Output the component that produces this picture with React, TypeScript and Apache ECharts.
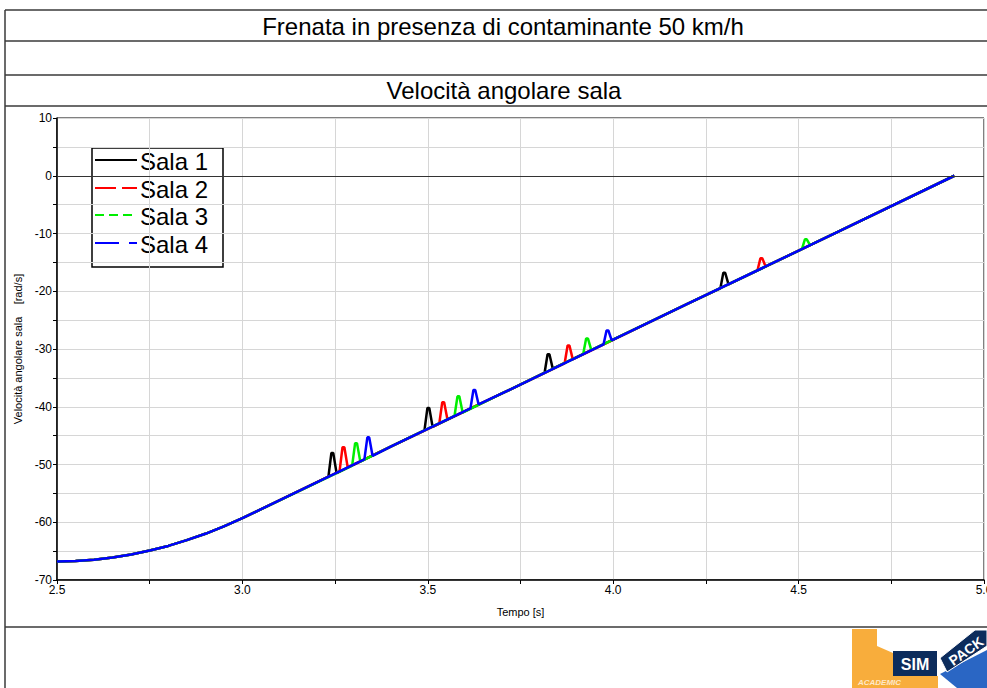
import React, { useEffect, useRef } from "react";
import * as echarts from "echarts";

const mainTitle = "Frenata in presenza di contaminante 50 km/h";
const chartTitle = "Velocità angolare sala";
const xAxisName = "Tempo [s]";
const yAxisName = "Velocità angolare sala    [rad/s]";
const seriesNames = ["Sala 1", "Sala 2", "Sala 3", "Sala 4"];
const seriesColors = ["#000000", "#ff0000", "#00ee00", "#0000ff"];
const legendDashes: (number[] | null)[] = [null, [21, 6], [9, 5], [24, 10, 8, 10]];

// shared wheel angular velocity curve [s] / [rad/s]
const baseTime = [2.5, 2.55, 2.6, 2.65, 2.7, 2.75, 2.8, 2.85, 2.9, 2.95, 3.0, 3.4, 3.7, 4.2, 4.6, 4.92];
const baseValue = [-66.8, -66.7, -66.5, -66.1, -65.6, -64.9, -64.1, -63.1, -62.0, -60.7, -59.3, -46.9, -37.7, -22.2, -9.9, 0];

// local spikes of each wheelset (4 points per spike)
const sala1SpikeTime = [3.232, 3.240, 3.245, 3.254, 3.491, 3.499, 3.504, 3.513, 3.815, 3.823, 3.828, 3.837, 4.289, 4.297, 4.302, 4.311];
const sala1SpikeValue = [-52.1, -48.0, -48.0, -51.5, -44.1, -40.2, -40.2, -43.5, -34.1, -30.9, -30.9, -33.4, -19.5, -16.8, -16.8, -18.8];
const sala2SpikeTime = [3.262, 3.270, 3.275, 3.284, 3.531, 3.539, 3.544, 3.553, 3.869, 3.877, 3.882, 3.891, 4.389, 4.397, 4.402, 4.411];
const sala2SpikeValue = [-51.2, -47.0, -47.0, -50.5, -42.9, -39.2, -39.2, -42.2, -32.5, -29.4, -29.4, -31.8, -16.4, -14.3, -14.3, -15.7];
const sala3SpikeTime = [3.296, 3.304, 3.309, 3.318, 3.572, 3.580, 3.585, 3.594, 3.919, 3.927, 3.932, 3.941, 4.509, 4.517, 4.522, 4.531];
const sala3SpikeValue = [-50.2, -46.3, -46.3, -49.5, -41.6, -38.2, -38.2, -41.0, -30.9, -28.2, -28.2, -30.2, -12.7, -11.0, -11.0, -12.0];
const sala4SpikeTime = [3.329, 3.337, 3.342, 3.351, 3.615, 3.623, 3.628, 3.637, 3.974, 3.982, 3.987, 3.996];
const sala4SpikeValue = [-49.1, -45.3, -45.3, -48.5, -40.3, -37.1, -37.1, -39.6, -29.2, -26.8, -26.8, -28.5];

const xTickLabels = ["2.5", "3.0", "3.5", "4.0", "4.5", "5.0"];
const yTickLabels = ["10", "0", "-10", "-20", "-30", "-40", "-50", "-60", "-70"];

const spikeTimes = [sala1SpikeTime, sala2SpikeTime, sala3SpikeTime, sala4SpikeTime];
const spikeValues = [sala1SpikeValue, sala2SpikeValue, sala3SpikeValue, sala4SpikeValue];

function buildSeriesData(idx: number): [number, number][] {
  const st = spikeTimes[idx];
  const sv = spikeValues[idx];
  const windows: [number, number][] = [];
  for (let i = 0; i + 3 < st.length; i += 4) windows.push([st[i], st[i + 3]]);
  const pts: [number, number][] = [];
  baseTime.forEach((t, i) => {
    if (!windows.some(([a, b]) => t >= a && t <= b)) pts.push([t, baseValue[i]]);
  });
  st.forEach((t, i) => pts.push([t, sv[i]]));
  pts.sort((a, b) => a[0] - b[0]);
  return pts;
}

const FONT = "'Liberation Sans', Arial, Helvetica, sans-serif";

export default function App() {
  const ref = useRef<HTMLDivElement>(null);
  useEffect(() => {
    if (!ref.current) return;
    const chart = echarts.init(ref.current, null, { renderer: "svg" });

    const frameColor = "#3a3a3a";
    const hLine = (y: number) => ({
      type: "line",
      shape: { x1: 5, y1: y, x2: 987, y2: y },
      style: { stroke: frameColor, lineWidth: 1.5 },
      silent: true,
    });

    const legendTop = 148;
    const legendRowYs = [160, 188, 215, 243];
    const legendChildren: any[] = [
      {
        type: "rect",
        shape: { x: 92, y: legendTop, width: 131, height: 119 },
        style: { fill: "#ffffff", stroke: "#000", lineWidth: 1.5 },
      },
    ];
    seriesNames.forEach((n, i) => {
      legendChildren.push({
        type: "line",
        shape: { x1: 95, y1: legendRowYs[i], x2: 137, y2: legendRowYs[i] },
        style: {
          stroke: seriesColors[i],
          lineWidth: 2,
          lineDash: legendDashes[i] || undefined,
        },
      });
      legendChildren.push({
        type: "text",
        x: 140,
        y: legendRowYs[i] + 1,
        style: {
          text: n,
          fill: "#000",
          font: `24px ${FONT}`,
          textAlign: "left",
          textVerticalAlign: "middle",
          verticalAlign: "middle",
        },
      });
    });

    const option: any = {
      animation: false,
      backgroundColor: "#ffffff",
      grid: {
        left: 57,
        right: 3,
        top: 118,
        bottom: 108,
        show: true,
        borderColor: "#000",
        borderWidth: 1,
        backgroundColor: "transparent",
        containLabel: false,
        outerBoundsMode: "none",
      },
      xAxis: {
        type: "value",
        min: 2.5,
        max: 5,
        interval: 0.25,
        name: xAxisName,
        nameLocation: "middle",
        nameGap: 26,
        nameTextStyle: { fontSize: 11, color: "#000", fontFamily: FONT },
        axisLine: { show: true, onZero: false, lineStyle: { color: "#000", width: 1.5 } },
        axisTick: { show: true, length: 4, lineStyle: { color: "#000" } },
        axisLabel: {
          fontSize: 12,
          color: "#000",
          fontFamily: FONT,
          margin: 4,
          hideOverlap: false,
          formatter: (v: number) => {
            const k = Math.round((v - 2.5) / 0.5);
            return Math.abs(v - (2.5 + k * 0.5)) < 1e-6 ? xTickLabels[k] ?? "" : "";
          },
        },
        splitLine: { show: true, lineStyle: { color: "#d6d6d6", width: 1 } },
      },
      yAxis: {
        type: "value",
        min: -70,
        max: 10,
        interval: 5,
        name: yAxisName,
        nameLocation: "middle",
        nameGap: 33,
        nameTextStyle: { fontSize: 11, color: "#000", fontFamily: FONT },
        axisLine: { show: true, lineStyle: { color: "#000", width: 1.5 } },
        axisTick: { show: true, length: 4, lineStyle: { color: "#000" } },
        axisLabel: {
          fontSize: 12,
          color: "#000",
          fontFamily: FONT,
          margin: 5,
          formatter: (v: number) => {
            const k = Math.round((10 - v) / 10);
            return Math.abs(v - (10 - k * 10)) < 1e-6 ? yTickLabels[k] ?? "" : "";
          },
        },
        splitLine: { show: true, lineStyle: { color: "#d6d6d6", width: 1 } },
      },
      series: seriesNames.map((name, i) => ({
        name,
        type: "line",
        symbol: "none",
        showSymbol: false,
        data: buildSeriesData(i),
        lineStyle: { color: seriesColors[i], width: 2.5, type: "solid" },
        itemStyle: { color: seriesColors[i] },
        emphasis: { disabled: true },
        markLine:
          i === 0
            ? {
                silent: true,
                symbol: ["none", "none"],
                label: { show: false },
                lineStyle: { color: "#333", width: 1, type: "solid" },
                data: [{ yAxis: 0 }],
              }
            : undefined,
      })),
      graphic: [
        hLine(10),
        hLine(41),
        hLine(75),
        hLine(106),
        hLine(627),
        {
          type: "line",
          shape: { x1: 5, y1: 10, x2: 5, y2: 688 },
          style: { stroke: frameColor, lineWidth: 1.5 },
          silent: true,
        },
        {
          type: "text",
          x: 503,
          y: 26,
          style: {
            text: mainTitle,
            fill: "#000",
            font: `24px ${FONT}`,
            textAlign: "center",
            textVerticalAlign: "middle",
            verticalAlign: "middle",
          },
        },
        {
          type: "text",
          x: 504,
          y: 90,
          style: {
            text: chartTitle,
            fill: "#000",
            font: `24px ${FONT}`,
            textAlign: "center",
            textVerticalAlign: "middle",
            verticalAlign: "middle",
          },
        },
        { type: "group", z: 100, children: legendChildren },
        // SIMPACK Academic logo
        {
          type: "group",
          z: 100,
          children: [
            {
              type: "polygon",
              shape: {
                points: [
                  [852, 629], [877, 629], [877, 646], [893, 653], [893, 676], [938, 676], [938, 688], [852, 688],
                ],
              },
              style: { fill: "#f8ad3c" },
            },
            {
              type: "rect",
              shape: { x: 893, y: 651, width: 44, height: 25 },
              style: { fill: "#0c2c5c" },
            },
            {
              type: "text",
              x: 915,
              y: 664,
              style: {
                text: "SIM",
                fill: "#ffffff",
                font: `bold 16px ${FONT}`,
                textAlign: "center",
                textVerticalAlign: "middle",
                verticalAlign: "middle",
              },
            },
            {
              type: "polygon",
              shape: { points: [[940, 674], [987, 650], [987, 688], [957, 688]] },
              style: { fill: "#2a66c4" },
            },
            {
              type: "polygon",
              shape: { points: [[940, 658], [975, 630], [987, 630], [987, 646], [947, 672]] },
              style: { fill: "#0c2c5c", stroke: "#ffffff", lineWidth: 1 },
            },
            {
              type: "text",
              x: 966,
              y: 651,
              rotation: 0.62,
              style: {
                text: "PACK",
                fill: "#ffffff",
                font: `bold 14px ${FONT}`,
                textAlign: "center",
                textVerticalAlign: "middle",
                verticalAlign: "middle",
              },
            },
            {
              type: "text",
              x: 858,
              y: 682,
              style: {
                text: "ACADEMIC",
                fill: "#fde9c8",
                font: `italic bold 8px ${FONT}`,
                textAlign: "left",
                textVerticalAlign: "middle",
                verticalAlign: "middle",
              },
            },
          ],
        },
      ],
    };

    chart.setOption(option);
    return () => chart.dispose();
  }, []);

  return (
    <div
      ref={ref}
      style={{ width: 987, height: 688, position: "absolute", left: 0, top: 0, background: "#fff" }}
    />
  );
}
